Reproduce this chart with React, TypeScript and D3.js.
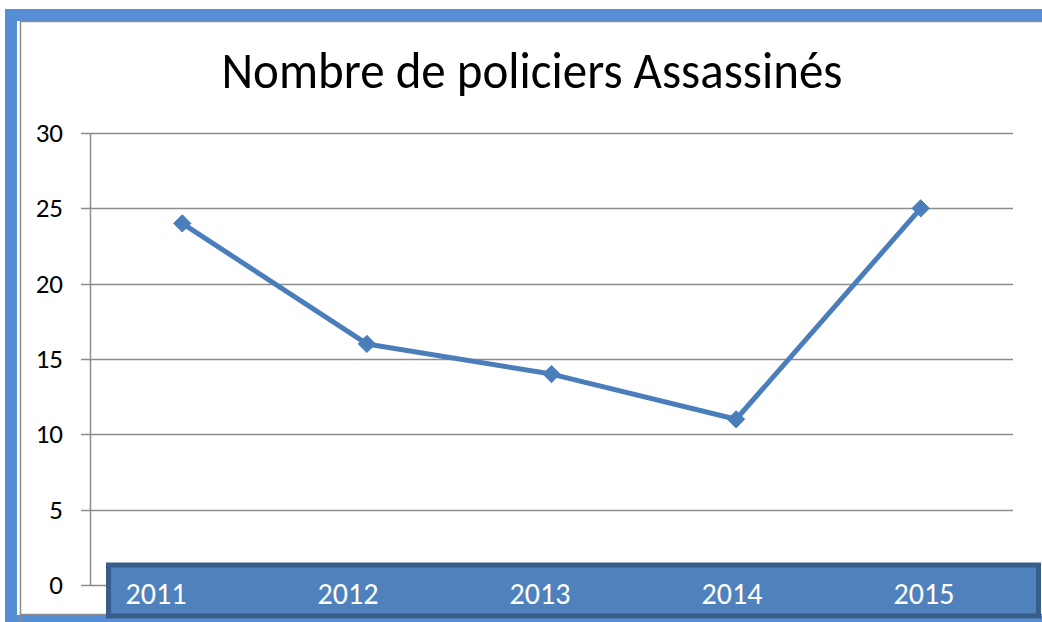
import React, { useRef, useEffect } from "react";
import * as d3 from "d3";

const years = ["2011", "2012", "2013", "2014", "2015"];
const killed = [24, 16, 14, 11, 25];
const yTicks = [0, 5, 10, 15, 20, 25, 30];
const title = "Nombre de policiers Assassinés";

const W = 1042;
const H = 622;

const App = () => {
  const svgRef = useRef<SVGSVGElement>(null);

  useEffect(() => {
    const svg = d3.select(svgRef.current).attr("width", W).attr("height", H);
    svg.selectAll("*").remove();
    const font = "Carlito, Calibri, 'Liberation Sans', sans-serif";

    // frame
    svg.append("rect").attr("x", 0).attr("y", 0).attr("width", W).attr("height", H).attr("fill", "#fff");
    svg.append("rect").attr("x", 5).attr("y", 9).attr("width", W - 5).attr("height", H - 9).attr("fill", "#558ed5");
    svg.append("rect").attr("x", 17).attr("y", 21).attr("width", W - 17).attr("height", 594).attr("fill", "#fff");
    svg.append("path")
      .attr("d", `M20.5,${H}V21.5H${W} M20.5,614.5H${W}`)
      .attr("fill", "none")
      .attr("stroke", "#8c8c8c")
      .attr("stroke-width", 1.5);

    svg.append("text")
      .attr("x", 532)
      .attr("y", 88)
      .attr("text-anchor", "middle")
      .attr("font-family", font)
      .attr("font-size", 52)
      .attr("textLength", 621)
      .attr("lengthAdjust", "spacingAndGlyphs")
      .attr("fill", "#000")
      .text(title);

    const x = d3.scaleBand().domain(years).range([90, 1013]);
    const xLab = d3.scaleBand().domain(years).range([60, 1020]);
    const y = d3.scaleLinear().domain([0, 30]).range([585, 133]);

    const g = svg.append("g");

    // gridlines
    g.selectAll("line.grid")
      .data(yTicks)
      .enter()
      .append("line")
      .attr("x1", 81)
      .attr("x2", 1013)
      .attr("y1", (d) => Math.round(y(d)) + 0.5)
      .attr("y2", (d) => Math.round(y(d)) + 0.5)
      .attr("stroke", "#8c8c8c")
      .attr("stroke-width", 1.5);

    g.append("line")
      .attr("x1", 90.5)
      .attr("x2", 90.5)
      .attr("y1", y(30))
      .attr("y2", y(0))
      .attr("stroke", "#8c8c8c")
      .attr("stroke-width", 1.5);

    g.selectAll("text.ytick")
      .data(yTicks)
      .enter()
      .append("text")
      .attr("x", 63)
      .attr("y", (d) => y(d) + 9)
      .attr("text-anchor", "end")
      .attr("font-family", font)
      .attr("font-size", 27)
      .attr("fill", "#000")
      .text((d) => d);

    // category label band
    svg.append("rect")
      .attr("x", 108.5)
      .attr("y", 565)
      .attr("width", 930)
      .attr("height", 51)
      .attr("fill", "#4f81bd")
      .attr("stroke", "#385d8a")
      .attr("stroke-width", 5);

    svg.selectAll("text.xtick")
      .data(years)
      .enter()
      .append("text")
      .attr("x", (d) => xLab(d)! + xLab.bandwidth() / 2)
      .attr("y", 604)
      .attr("text-anchor", "middle")
      .attr("font-family", font)
      .attr("font-size", 30)
      .attr("fill", "#fff")
      .text((d) => d);

    const pts = years.map((yr, i) => ({ yr, v: killed[i] }));
    const line = d3
      .line<{ yr: string; v: number }>()
      .x((d) => x(d.yr)! + x.bandwidth() / 2)
      .y((d) => y(d.v));

    g.append("path")
      .datum(pts)
      .attr("d", line)
      .attr("fill", "none")
      .attr("stroke", "#4a7ebb")
      .attr("stroke-width", 5)
      .attr("stroke-linejoin", "round");

    g.selectAll("path.marker")
      .data(pts)
      .enter()
      .append("path")
      .attr("d", d3.symbol().type(d3.symbolDiamond2).size(190))
      .attr("transform", (d) => `translate(${x(d.yr)! + x.bandwidth() / 2},${y(d.v)})`)
      .attr("fill", "#4a7ebb")
      .attr("stroke", "#4a7ebb")
      .attr("stroke-width", 1);
  }, []);

  return (
    <div style={{ position: "absolute", left: 0, top: 0 }}>
      <svg ref={svgRef} style={{ display: "block" }}></svg>
    </div>
  );
};

export default App;
